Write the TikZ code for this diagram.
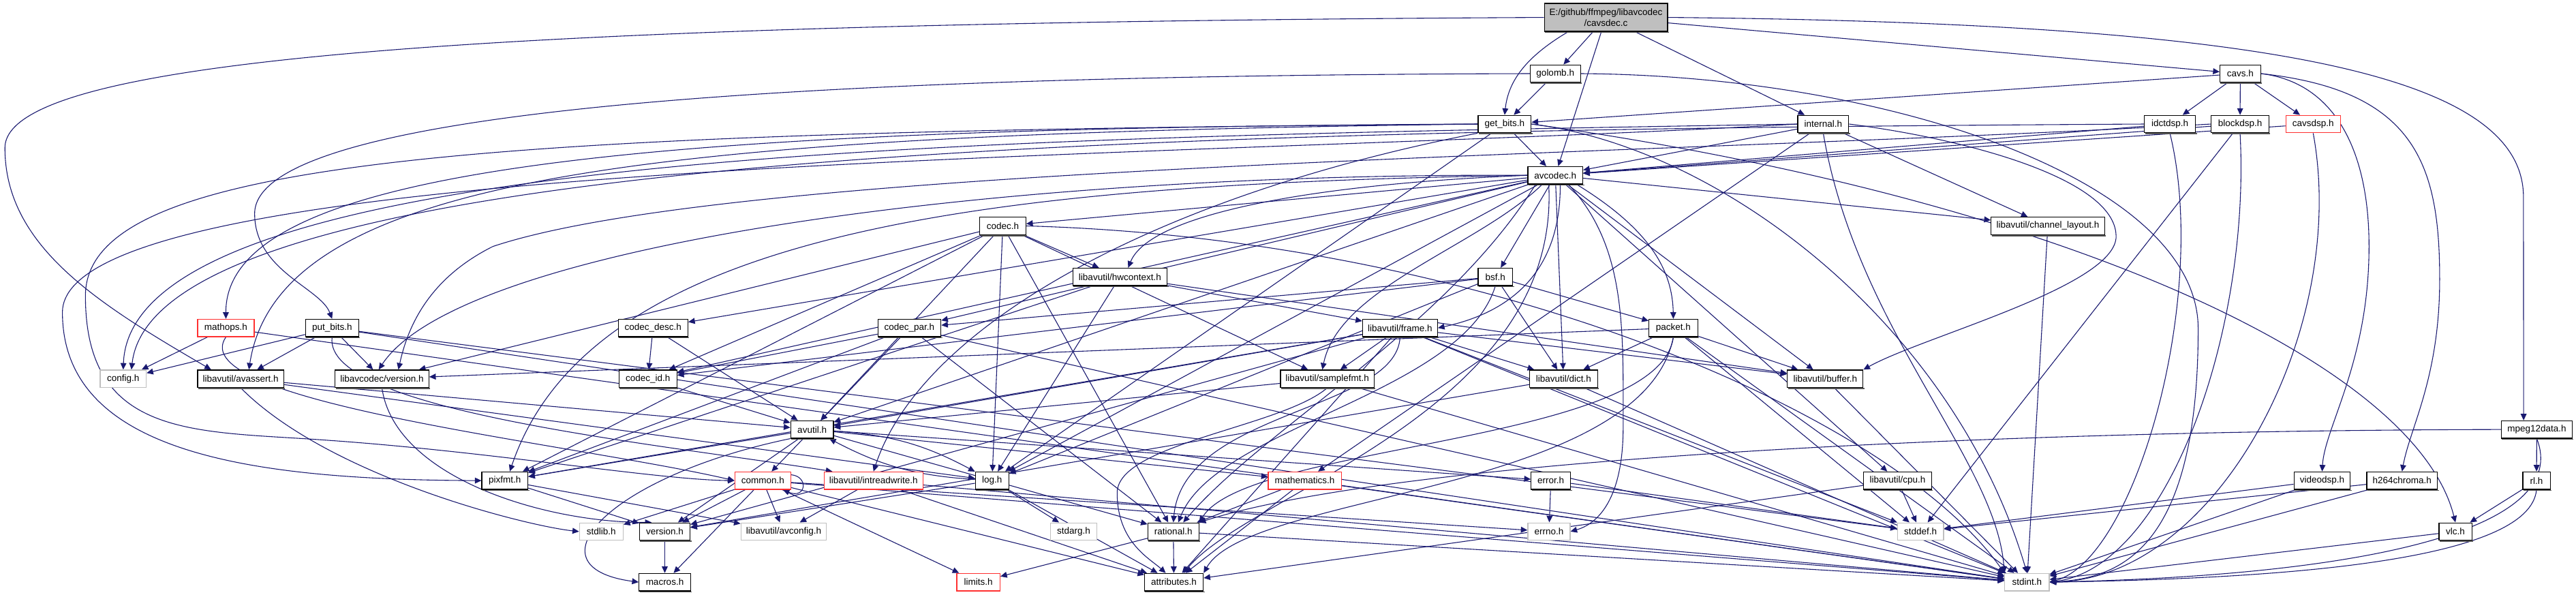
\documentclass[tikz,border=0pt]{standalone}
\usepackage{fontspec}
\setmainfont{Liberation Sans}
\usetikzlibrary{arrows.meta}
\definecolor{edgec}{HTML}{191970}
\definecolor{boxred}{HTML}{FF3030}
\definecolor{boxgray}{HTML}{BFBFBF}
\definecolor{mainfill}{HTML}{BFBFBF}
\definecolor{shadowc}{HTML}{555555}
\pgfdeclarelayer{bg}
\pgfsetlayers{bg,main}
\begin{document}
\begin{tikzpicture}[x=1pt,y=-1pt,
  box/.style={draw=black,line width=0.5pt,fill=white,inner sep=0pt,minimum height=10.6pt,font=\fontsize{5.6}{6.4}\selectfont,
    append after command={([xshift=0.6pt,yshift=-0.35pt]\tikzlastnode.south west) edge[draw=shadowc,line width=0.7pt] ([xshift=0.6pt,yshift=-0.35pt]\tikzlastnode.south east)}},
  redbox/.style={draw=boxred,line width=0.5pt,fill=white,inner sep=0pt,minimum height=10.6pt,font=\fontsize{5.6}{6.4}\selectfont},
  sysbox/.style={draw=boxgray,line width=0.5pt,fill=white,inner sep=0pt,minimum height=10.6pt,font=\fontsize{5.6}{6.4}\selectfont},
  ed/.style={draw=edgec,line width=0.45pt,-{Triangle[length=4pt,width=3.6pt]}}]
\useasboundingbox (0,0) rectangle (1568,362);
% row 0
\node[box,fill=mainfill,minimum width=75pt,minimum height=17pt,align=center] (main) at (977.5,10.6) {E:/github/ffmpeg/libavcodec\\/cavsdec.c};
% row 1
\node[box,minimum width=30.6pt] (golomb) at (946.7,44.8) {golomb.h};
\node[box,minimum width=24.7pt] (cavs) at (1363.65,44.8) {cavs.h};
% row 2
\node[box,minimum width=32.3pt] (getbits) at (915.85,75.5) {get\_bits.h};
\node[box,minimum width=31pt] (internal) at (1109.8,75.5) {internal.h};
\node[box,minimum width=31pt] (idctdsp) at (1320.8,75.5) {idctdsp.h};
\node[box,minimum width=35pt] (blockdsp) at (1363.5,75.5) {blockdsp.h};
\node[redbox,minimum width=33.3pt] (cavsdsp) at (1408,75.5) {cavsdsp.h};
% row 3
\node[box,minimum width=33.4pt] (avcodec) at (946.7,106.7) {avcodec.h};
% row 4
\node[box,minimum width=28pt] (codec) at (610.4,137.5) {codec.h};
\node[box,minimum width=69pt] (chlayout) at (1246.5,137.5) {libavutil/channel\_layout.h};
% row 5
\node[box,minimum width=57.4pt] (hwcontext) at (681.7,168.5) {libavutil/hwcontext.h};
\node[box,minimum width=21pt] (bsf) at (910.2,168.5) {bsf.h};
% row 6
\node[redbox,minimum width=34.4pt] (mathops) at (137.5,199.6) {mathops.h};
\node[box,minimum width=32.3pt] (putbits) at (202.15,199.6) {put\_bits.h};
\node[box,minimum width=42.4pt] (codecdesc) at (397.5,199.6) {codec\_desc.h};
\node[box,minimum width=38.3pt] (codecpar) at (553.55,199.6) {codec\_par.h};
\node[box,minimum width=45.6pt] (frame) at (852.2,199.6) {libavutil/frame.h};
\node[box,minimum width=29.7pt] (packet) at (1018.55,199.6) {packet.h};
% row 7
\node[sysbox,minimum width=28pt] (config) at (75,230.5) {config.h};
\node[box,minimum width=52.4pt] (avassert) at (146.5,230.5) {libavutil/avassert.h};
\node[box,minimum width=57pt] (lcversion) at (232.5,230.5) {libavcodec/version.h};
\node[box,minimum width=35.3pt] (codecid) at (394.35,230.5) {codec\_id.h};
\node[box,minimum width=57pt] (samplefmt) at (807.9,230.5) {libavutil/samplefmt.h};
\node[box,minimum width=41.4pt] (dict) at (951.7,230.5) {libavutil/dict.h};
\node[box,minimum width=46pt] (buffer) at (1111,230.5) {libavutil/buffer.h};
% row 8
\node[box,minimum width=26pt] (avutil) at (494.3,261.4) {avutil.h};
\node[box,minimum width=43pt] (mpeg12data) at (1544.1,261.4) {mpeg12data.h};
% row 9
\node[box,minimum width=28pt] (pixfmt) at (307.3,292.5) {pixfmt.h};
\node[redbox,minimum width=34pt] (common) at (464.3,292.5) {common.h};
\node[redbox,minimum width=60pt] (intreadwrite) at (531.7,292.5) {libavutil/intreadwrite.h};
\node[box,minimum width=20.3pt] (log) at (603.85,292.5) {log.h};
\node[redbox,minimum width=44.4pt] (mathematics) at (794.2,292.5) {mathematics.h};
\node[box,minimum width=24pt] (error) at (944,292.5) {error.h};
\node[box,minimum width=41.3pt] (cpu) at (1155,292.5) {libavutil/cpu.h};
\node[box,minimum width=34.3pt] (videodsp) at (1413.45,292.5) {videodsp.h};
\node[box,minimum width=43pt] (h264chroma) at (1462.1,292.5) {h264chroma.h};
\node[box,minimum width=16.7pt] (rl) at (1543.95,292.5) {rl.h};
% row 10
\node[sysbox,minimum width=26.6pt] (stdlib) at (366,323.5) {stdlib.h};
\node[box,minimum width=30.7pt] (version) at (404.65,323.5) {version.h};
\node[sysbox,minimum width=52pt] (avconfig) at (477,323.5) {libavutil/avconfig.h};
\node[sysbox,minimum width=28.3pt] (stdarg) at (653.55,323.5) {stdarg.h};
\node[box,minimum width=31pt] (rational) at (714.2,323.5) {rational.h};
\node[sysbox,minimum width=25.7pt] (errno) at (942.85,323.5) {errno.h};
\node[sysbox,minimum width=28pt] (stddef) at (1169,323.5) {stddef.h};
\node[box,minimum width=20pt] (vlc) at (1494.6,323.5) {vlc.h};
% row 11
\node[box,minimum width=31.3pt] (macros) at (404.65,354.3) {macros.h};
\node[redbox,minimum width=26.3pt] (limits) at (595.55,354.3) {limits.h};
\node[box,minimum width=35.7pt] (attributes) at (714.55,354.3) {attributes.h};
\node[sysbox,minimum width=27pt] (stdint) at (1233.8,354.3) {stdint.h};

\begin{pgfonlayer}{bg}
\fill[white] (0,0) rectangle (1568,362);
% ---- straight edges
\foreach \a/\b in {main/golomb,main/avcodec,main/internal,main/cavs,
  golomb/getbits,getbits/avcodec,getbits/log,
  cavs/idctdsp,cavs/blockdsp,cavs/cavsdsp,cavs/getbits,
  internal/avcodec,internal/chlayout,internal/mathematics,
  idctdsp/avcodec,blockdsp/avcodec,blockdsp/stddef,cavsdsp/avcodec,
  avcodec/avutil,avcodec/buffer,avcodec/cpu,avcodec/chlayout,avcodec/dict,avcodec/log,avcodec/bsf,avcodec/codec,avcodec/codecdesc,avcodec/codecpar,avcodec/codecid,
  codec/avutil,codec/hwcontext,codec/log,codec/pixfmt,codec/rational,codec/samplefmt,codec/codecid,codec/lcversion,
  chlayout/stdint,
  hwcontext/buffer,hwcontext/frame,hwcontext/log,hwcontext/pixfmt,
  bsf/dict,bsf/log,bsf/codecid,bsf/codecpar,bsf/packet,
  codecdesc/avutil,codecdesc/codecid,
  codecpar/stdint,codecpar/avutil,codecpar/rational,codecpar/pixfmt,codecpar/codecid,
  frame/stddef,frame/stdint,frame/avutil,frame/buffer,frame/dict,frame/samplefmt,frame/pixfmt,frame/version,frame/attributes,
  packet/stddef,packet/stdint,packet/buffer,packet/dict,packet/lcversion,
  mathops/stdint,mathops/config,
  putbits/stdint,putbits/stddef,putbits/config,putbits/avassert,putbits/lcversion,
  samplefmt/stdint,samplefmt/avutil,
  dict/stdint,dict/version,buffer/stdint,
  avassert/avutil,avassert/log,codecid/avutil,
  avutil/common,avutil/error,avutil/rational,avutil/version,avutil/mathematics,avutil/pixfmt,
  mpeg12data/rl,pixfmt/avconfig,pixfmt/version,
  common/errno,common/limits,common/stdint,common/stdlib,common/attributes,common/macros,common/version,common/avconfig,
  intreadwrite/stdint,intreadwrite/avconfig,intreadwrite/attributes,
  log/stdarg,log/attributes,log/version,
  mathematics/stdint,mathematics/attributes,mathematics/rational,
  error/errno,error/stddef,cpu/stddef,cpu/attributes,
  videodsp/stddef,videodsp/stdint,h264chroma/stddef,h264chroma/stdint,
  rl/vlc,version/macros,rational/stdint,rational/limits,rational/attributes,vlc/stdint}
  {\draw[ed] (\a) -- (\b);}
% ---- bent / routed edges
\draw[ed] (avutil) to[bend left=12] (log);
\draw[ed] (log) to[bend left=12] (avutil);
\draw[ed] ([xshift=-23pt]main.south) .. controls (928,35) and (918,50) .. (getbits.north);
\draw[ed] (main.west) .. controls (300,14) and (3,35) .. (3,90) .. controls (3,150) and (60,185) .. ([xshift=-18pt]avassert.north);
\draw[ed] (main.east) .. controls (1380,14) and (1536,45) .. (1536,120) -- ([xshift=-8pt]mpeg12data.north);
\draw[ed] (golomb.west) .. controls (450,46) and (155,70) .. (155,130) .. controls (155,165) and (195,175) .. (putbits.north);
\draw[ed] (golomb.east) .. controls (1150,46) and (1338,110) .. (1338,200) .. controls (1338,335) and (1290,352) .. (stdint.east);
\draw[ed] (getbits.west) .. controls (400,78) and (137,100) .. (mathops.north);
\draw[ed] (getbits.west) .. controls (400,82) and (170,105) .. ([xshift=5pt]avassert.north);
\draw[ed] (getbits.west) .. controls (300,80) and (52,95) .. (52,180) .. controls (52,268) and (120,262) .. (200,268) .. controls (300,275) and (400,292) .. (common.west);
\draw[ed] (getbits.south west) .. controls (700,120) and (560,200) .. (intreadwrite.north);
\draw[ed] (getbits.east) .. controls (1250,120) and (1470,220) .. (vlc.north);
\draw[ed] (getbits.east) .. controls (1050,90) and (1190,200) .. (stdint.north);
\draw[ed] (cavs.east) .. controls (1420,50) and (1442,90) .. (1442,150) .. controls (1442,220) and (1415,260) .. (videodsp.north);
\draw[ed] (cavs.east) .. controls (1470,55) and (1485,100) .. (1485,170) .. controls (1485,230) and (1467,260) .. (h264chroma.north);
\draw[ed] (internal.east) .. controls (1200,85) and (1290,110) .. (1288,145) .. controls (1285,175) and (1170,205) .. (buffer.north east);
\draw[ed] (internal.south) .. controls (1130,200) and (1215,280) .. (stdint.north west);
\draw[ed] (internal.west) .. controls (700,98) and (38,95) .. (38,190) .. controls (38,275) and (150,292) .. (pixfmt.west);
\draw[ed] (internal.west) .. controls (600,84) and (80,90) .. (config.north);
\draw[ed] (idctdsp.west) .. controls (700,79) and (95,92) .. ([xshift=5pt]config.north);
\draw[ed] (idctdsp.south) .. controls (1345,180) and (1300,340) .. (stdint.east);
\draw[ed] (blockdsp.south) .. controls (1370,200) and (1320,345) .. (stdint.east);
\draw[ed] (cavsdsp.south) .. controls (1430,200) and (1350,352) .. (stdint.east);
\draw[ed] (blockdsp.west) .. controls (1000,95) and (450,100) .. (300,150) .. controls (260,170) and (248,200) .. ([xshift=10pt]lcversion.north);
\draw[ed] (avcodec.west) .. controls (800,112) and (700,130) .. ([xshift=5pt]hwcontext.north);
\draw[ed] ([xshift=8pt]avcodec.south) .. controls (990,150) and (988,200) .. (988,260) .. controls (988,300) and (975,318) .. (errno.east);
\draw[ed] (avcodec.west) .. controls (600,112) and (360,140) .. ([xshift=3pt]pixfmt.north);
\draw[ed] (avcodec.west) .. controls (600,105) and (280,150) .. ([xshift=-2pt]lcversion.north);
\draw[ed] ([xshift=3pt]avcodec.south) .. controls (950,165) and (920,190) .. (frame.east);
\draw[ed] ([xshift=13pt]avcodec.south) .. controls (1005,140) and (1018,165) .. (packet.north);
\draw[ed] ([xshift=-8pt]avcodec.south) .. controls (900,150) and (815,175) .. ([xshift=-3pt]samplefmt.north);
\draw[ed] ([xshift=-12pt]avcodec.south) .. controls (880,200) and (770,260) .. ([xshift=6pt]rational.north);
\draw[ed] ([xshift=-4pt]avcodec.south) .. controls (950,250) and (760,300) .. ([xshift=6pt]attributes.north);
\draw[ed] (frame.south) .. controls (850,250) and (720,250) .. (rational.north);
\draw[ed] (samplefmt.south) .. controls (780,260) and (680,270) .. (680,300) .. controls (680,330) and (700,340) .. ([xshift=-5pt]attributes.north);
\draw[ed] (bsf.south) .. controls (890,240) and (740,260) .. ([xshift=3pt]rational.north);
\draw[ed] (packet.south) .. controls (1010,270) and (760,270) .. (rational.north east);
\draw[ed] (packet.south) .. controls (1000,300) and (760,300) .. (attributes.north east);
\draw[ed] (codec.east) .. controls (900,145) and (1150,250) .. (stdint.north west);
\draw[ed] (mathops.south) .. controls (110,245) and (350,270) .. (common.west);
\draw[ed] (putbits.south) .. controls (196,250) and (400,270) .. ([xshift=-25pt]intreadwrite.north);
\draw[ed] (avutil.south west) .. controls (370,290) and (320,345) .. (macros.west);
\draw[ed] (lcversion.south) .. controls (240,290) and (330,318) .. ([xshift=-8pt]version.north);
\draw[ed] (avassert.south) .. controls (200,290) and (320,320) .. (stdlib.west);
\draw[ed] ([yshift=-2pt]common.north east) .. controls +(11,1) and +(14,6) .. ([xshift=-5pt]common.south east);
\draw[ed] (mpeg12data.west) .. controls (1200,262) and (850,280) .. (rational.north east);
\draw[ed] (mpeg12data.south) .. controls (1565,320) and (1450,350) .. (stdint.east);
\draw[ed] (rl.south) .. controls (1540,340) and (1400,352) .. (stdint.east);
\end{pgfonlayer}
\end{tikzpicture}
\end{document}
